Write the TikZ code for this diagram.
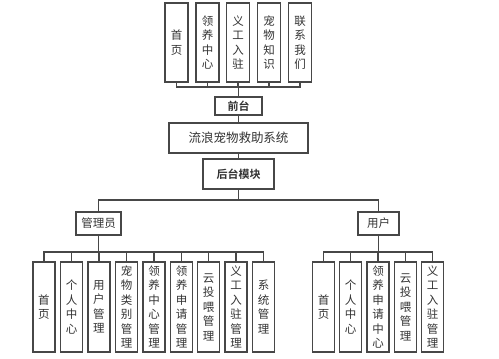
\documentclass[tikz,border=0pt]{standalone}
\usepackage{fontspec}
\newfontfamily\cjk{Noto Sans CJK SC}
\newfontfamily\cjkb{Noto Sans CJK SC Bold}
\begin{document}
\begin{tikzpicture}[x=1pt,y=-1pt,
  box/.style={draw=black!72,line width=1.4pt,fill=white,inner sep=0pt,text=black!80,
    font=\cjk\fontsize{11.5}{14.5}\selectfont,align=center},
  vbox/.style={box,minimum width=22pt,minimum height=90pt,text width=14pt},
  tbox/.style={box,minimum width=23pt,minimum height=79pt,text width=14pt},
  link/.style={draw=black!72,line width=1.3pt}]
\useasboundingbox (0,0) rectangle (499,359);
% top row
\node[tbox] (t1) at (176.5,42.5) {首\\页};
\node[tbox] (t2) at (207.5,42.5) {领\\养\\中\\心};
\node[tbox] (t3) at (238,42.5) {义\\工\\入\\驻};
\node[tbox] (t4) at (269,42.5) {宠\\物\\知\\识};
\node[tbox] (t5) at (300,42.5) {联\\系\\我\\们};
\coordinate (topbus) at (238.5,87);
\node[box,font=\cjkb\fontsize{11}{13}\selectfont,minimum width=47pt,minimum height=18pt] (qt) at (238.5,106) {前台};
\node[box,font=\cjk\fontsize{12.5}{14}\selectfont,minimum width=139pt,minimum height=30pt] (sys) at (238.5,138) {流浪宠物救助系统};
\node[box,font=\cjkb\fontsize{11}{13}\selectfont,minimum width=71pt,minimum height=30pt] (ht) at (238.5,174) {后台模块};
\coordinate (midbus) at (238.5,200);
\node[box,minimum width=45pt,minimum height=23pt] (gly) at (98.5,223.5) {管理员};
\node[box,minimum width=41pt,minimum height=23pt] (yh) at (378.5,223.5) {用户};
\coordinate (abus) at (98.5,252);
\coordinate (ubus) at (378.5,252);
% admin children
\node[vbox] (a1) at (44,307) {首\\页};
\node[vbox] (a2) at (71.5,307) {个\\人\\中\\心};
\node[vbox] (a3) at (99,307) {用\\户\\管\\理};
\node[vbox] (a4) at (126.5,307) {宠\\物\\类\\别\\管\\理};
\node[vbox] (a5) at (154,307) {领\\养\\中\\心\\管\\理};
\node[vbox] (a6) at (181.5,307) {领\\养\\申\\请\\管\\理};
\node[vbox] (a7) at (208.5,307) {云\\投\\喂\\管\\理};
\node[vbox] (a8) at (236,307) {义\\工\\入\\驻\\管\\理};
\node[vbox] (a9) at (263.5,307) {系\\统\\管\\理};
% user children
\node[vbox] (u1) at (323.5,307) {首\\页};
\node[vbox] (u2) at (350.5,307) {个\\人\\中\\心};
\node[vbox] (u3) at (378,307) {领\\养\\申\\请\\中\\心};
\node[vbox] (u4) at (405.5,307) {云\\投\\喂\\管\\理};
\node[vbox] (u5) at (432.5,307) {义\\工\\入\\驻\\管\\理};
% connectors
\foreach \n in {t1,t2,t3,t4,t5} \draw[link] (\n.south) |- (topbus);
\draw[link] (topbus) -- (qt.north);
\draw[link] (qt.south) -- (sys.north);
\draw[link] (sys.south) -- (ht.north);
\draw[link] (ht.south) -- (midbus);
\draw[link] (gly.north) |- (midbus);
\draw[link] (yh.north) |- (midbus);
\draw[link] (gly.south) -- (abus);
\draw[link] (yh.south) -- (ubus);
\foreach \n in {a1,a2,a3,a4,a5,a6,a7,a8,a9} \draw[link] (\n.north) |- (abus);
\foreach \n in {u1,u2,u3,u4,u5} \draw[link] (\n.north) |- (ubus);
\end{tikzpicture}
\end{document}
